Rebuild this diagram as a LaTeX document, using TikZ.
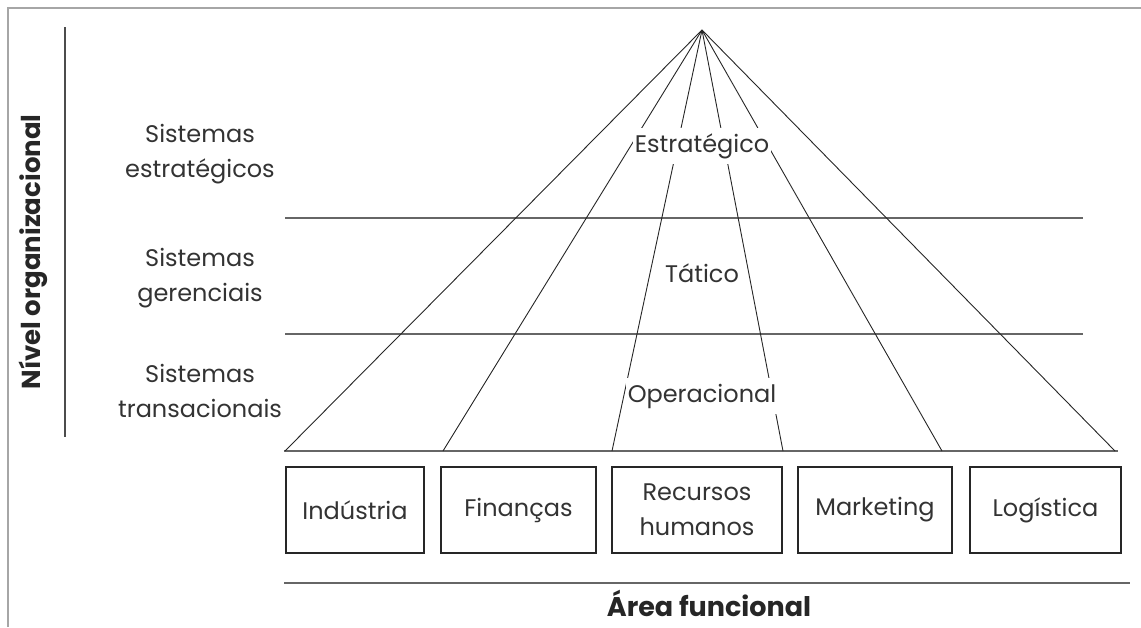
\documentclass[tikz,border=0pt]{standalone}
\usepackage{fontspec}
\setmainfont{Poppins}
\begin{document}
\begin{tikzpicture}[x=1pt,y=-1pt,
  txt/.style={text=black!80, font=\fontsize{24}{35}\selectfont, align=center, inner sep=0pt},
  lvl/.style={txt, fill=white, text height=18pt, text depth=6pt, inner xsep=2pt, inner ysep=6pt},
  area/.style={draw=black!85, line width=2.4pt, minimum height=86pt, inner sep=0pt, txt},
  ray/.style={draw=black!85, line width=0.9pt},
  rule/.style={draw=black!60, line width=1.6pt},
  axis/.style={text=black!85, font=\bfseries\fontsize{26}{30}\selectfont, inner sep=0pt}]
\useasboundingbox (0,0) rectangle (1141,627);
% frame
\draw[black!35, line width=2pt] (8,627) -- (8,8) -- (1141,8);

% apex and base points of the pyramid
\coordinate (apex) at (702,30);
\coordinate (b0) at (285,451);
\coordinate (b1) at (443,451);
\coordinate (b2) at (612,451);
\coordinate (b3) at (783,451);
\coordinate (b4) at (942,451);
\coordinate (b5) at (1115,451);
\coordinate (bl) at (284,451);
\coordinate (br) at (1118,451);

% level separators
\coordinate (h1l) at (285,218); \coordinate (h1r) at (1083,218);
\coordinate (h2l) at (285,334); \coordinate (h2r) at (1083,334);
\draw[rule] (h1l) -- (h1r);
\draw[rule] (h2l) -- (h2r);
\draw[rule] (bl) -- (br);

% rays
\foreach \b in {b0,b1,b2,b3,b4,b5} \draw[ray] (apex) -- (\b);

% level labels
\node[lvl] (est) at (702,146) {Estratégico};
\node[lvl] (tat) at (702,276) {Tático};
\node[lvl] (ope) at (702,396) {Operacional};

% system labels
\node[txt] (s1) at (200,154) {Sistemas\\estratégicos};
\node[txt] (s2) at (200,278) {Sistemas\\gerenciais};
\node[txt] (s3) at (200,391) {Sistemas\\transacionais};

% vertical axis
\coordinate (vt) at (65,27); \coordinate (vb) at (65,437);
\draw[black!70, line width=1.6pt] (vt) -- (vb);
\node[axis, rotate=90] (nivel) at (33,252) {Nível organizacional};

% functional areas
\node[area, minimum width=138pt] (ind) at (355,510) {Indústria};
\node[area, minimum width=155pt] (fin) at (518.5,510) {Finanças};
\node[area, minimum width=170pt] (rh) at (697,510) {Recursos\\humanos};
\node[area, minimum width=154pt] (mkt) at (875,510) {Marketing};
\node[area, minimum width=151pt] (log) at (1045.5,510) {Logística};

% horizontal axis
\coordinate (al) at (284,583); \coordinate (ar) at (1130,583);
\draw[black!60, line width=2pt] (al) -- (ar);
\node[axis, font=\bfseries\fontsize{27}{30}\selectfont] (area) at (709,603) {Área funcional};
\end{tikzpicture}
\end{document}
